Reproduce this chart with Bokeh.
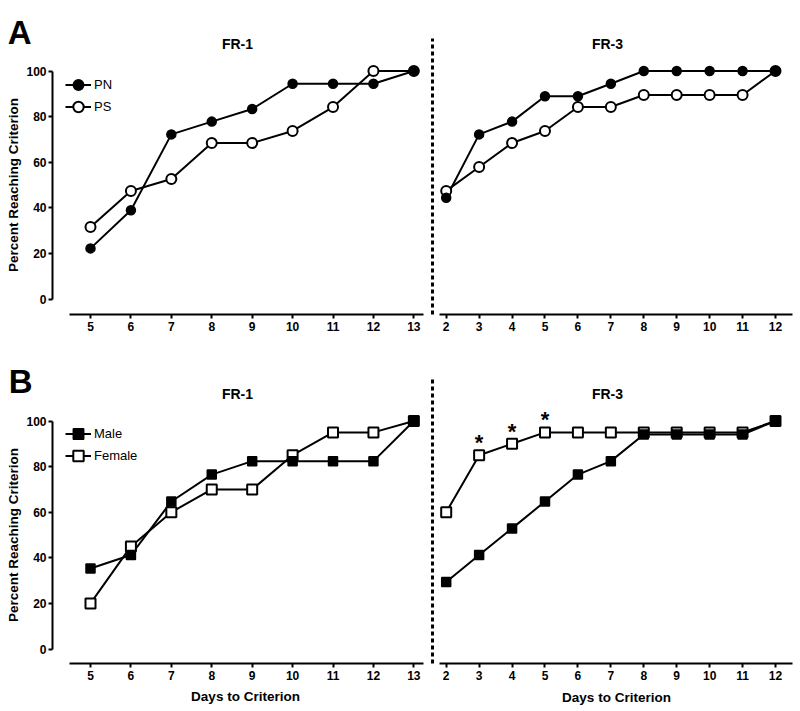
import math
from bokeh.plotting import figure
from bokeh.layouts import column, row
from bokeh.models import Label, Legend, LegendItem, FixedTicker, Range1d
from bokeh.embed import file_html
from bokeh.resources import INLINE

# ---------------- data ----------------
DAYS_FR1 = [5, 6, 7, 8, 9, 10, 11, 12, 13]
DAYS_FR3 = [2, 3, 4, 5, 6, 7, 8, 9, 10, 11, 12]

PN_FR1 = [22.2, 38.9, 72.2, 77.8, 83.3, 94.4, 94.4, 94.4, 100]
PS_FR1 = [31.6, 47.4, 52.6, 68.4, 68.4, 73.7, 84.2, 100, 100]
PN_FR3 = [44.4, 72.2, 77.8, 88.9, 88.9, 94.4, 100, 100, 100, 100, 100]
PS_FR3 = [47.4, 57.9, 68.4, 73.7, 84.2, 84.2, 89.5, 89.5, 89.5, 89.5, 100]

MALE_FR1 = [35.3, 41.2, 64.7, 76.5, 82.4, 82.4, 82.4, 82.4, 100]
FEMALE_FR1 = [20, 45, 60, 70, 70, 85, 95, 95, 100]
MALE_FR3 = [29.4, 41.2, 52.9, 64.7, 76.5, 82.4, 94.1, 94.1, 94.1, 94.1, 100]
FEMALE_FR3 = [60, 85, 90, 95, 95, 95, 95, 95, 95, 95, 100]

SIG_DAYS_FR3 = [3, 4, 5]
Y_TICKS = [0, 20, 40, 60, 80, 100]

FONT = "Liberation Sans"

# ---------------- layout helpers (pixel geometry of the page) ----------------
PX_PER_PCT = 2.28
def top_v(py):
    return (298.5 - py) / PX_PER_PCT
def bot_v(py):
    return (648.5 - py) / PX_PER_PCT
def fr1_day(px):
    return 5 + (px - 90.0) / 40.42
def fr3_day(px):
    return 2 + (px - 445.7) / 32.93


def style_axis(ax):
    ax.axis_line_width = 2
    ax.axis_line_color = "black"
    ax.major_tick_line_width = 2
    ax.major_tick_line_color = "black"
    ax.major_tick_in = 0
    ax.major_tick_out = 4
    ax.minor_tick_line_color = None
    ax.major_label_text_font = FONT
    ax.major_label_text_font_style = "bold"
    ax.major_label_text_font_size = "12px"
    ax.major_label_text_color = "black"
    ax.major_label_standoff = 3


def make_fig(width, height, xr, yr, mbl, mbt, mbb):
    p = figure(width=width, height=height, x_range=Range1d(*xr), y_range=Range1d(*yr),
               min_border_left=mbl, min_border_right=0, min_border_top=mbt,
               min_border_bottom=mbb, toolbar_location=None, output_backend="svg",
               title=None)
    p.frame_align = False
    p.grid.visible = False
    p.outline_line_color = None
    p.background_fill_color = "white"
    p.border_fill_color = "white"
    return p


def screen_label(p, fl, fb, px, py, text, size, style="bold", **kw):
    # position given in page pixels, converted to screen units relative to the frame
    p.add_layout(Label(x=px - fl, y=fb - py, x_units="screen", y_units="screen",
                       text=text, text_font=FONT, text_font_style=style,
                       text_font_size=size, text_color="black", **kw))


def left_panel(row_top, row_h, frame_top, vfun, axis_py, mid_py, title_py):
    # frame covers the whole figure (below frame_top); axes are placed at fixed locations
    p = make_fig(430, row_h, (fr1_day(0), fr1_day(430)),
                 (vfun(row_top + row_h), vfun(frame_top)), 0, frame_top - row_top, 0)
    fb = row_top + row_h
    xa = p.xaxis[0]
    style_axis(xa)
    xa.ticker = FixedTicker(ticks=DAYS_FR1)
    xa.bounds = (fr1_day(69), fr1_day(423))
    xa.fixed_location = vfun(axis_py)
    ya = p.yaxis[0]
    style_axis(ya)
    ya.major_label_standoff = 2
    ya.ticker = FixedTicker(ticks=Y_TICKS)
    ya.bounds = (0, 100)
    ya.fixed_location = fr1_day(52)
    screen_label(p, 0, fb, 13, mid_py, "Percent Reaching Criterion", "13.5px",
                 angle=math.pi / 2, text_align="center", text_baseline="middle")
    screen_label(p, 0, fb, 237, title_py, "FR-1", "14px",
                 text_align="center", text_baseline="middle")
    return p


def right_panel(row_top, row_h, frame_top, bottom_px, dash_top_px, vfun, title_py):
    yr = (vfun(bottom_px), vfun(frame_top))
    p = make_fig(370, row_h, (fr3_day(432), fr3_day(800)), yr, 2, frame_top - row_top,
                 row_top + row_h - bottom_px)
    xa = p.xaxis[0]
    style_axis(xa)
    xa.ticker = FixedTicker(ticks=DAYS_FR3)
    xa.bounds = (fr3_day(439), fr3_day(792))
    ya = p.yaxis[0]
    ya.ticker = FixedTicker(ticks=[])
    ya.major_label_text_font_size = "0px"
    ya.major_tick_out = 0
    ya.major_tick_in = 0
    ya.minor_tick_line_color = None
    ya.major_label_standoff = 0
    ya.axis_line_width = 3
    ya.axis_line_color = "black"
    ya.axis_line_dash = "4 3"
    ya.bounds = (yr[0], vfun(dash_top_px))
    screen_label(p, 432, bottom_px, 607, title_py, "FR-3", "14px",
                 text_align="center", text_baseline="middle")
    return p


def add_series(p, days, filled_vals, open_vals, marker):
    lo = p.line(days, open_vals, line_color="black", line_width=2)
    lf = p.line(days, filled_vals, line_color="black", line_width=2)
    so = p.scatter(days, open_vals, marker=marker, size=10, fill_color="white",
                   line_color="black", line_width=2)
    sf = p.scatter(days, filled_vals, marker=marker, size=9, fill_color="black",
                   line_color="black", line_width=1.5)
    return (lf, sf), (lo, so)


def add_legend(p, label_f, rf, label_o, ro):
    # one legend box per entry: the box margin sets the left offset, the item
    # height places each entry's centre at the wanted distance below the frame top
    for label, rends, h in ((label_f, rf, 39), (label_o, ro, 83)):
        leg = Legend(items=[LegendItem(label=label, renderers=list(rends))],
                     location="top_left", margin=65, padding=0, spacing=0,
                     glyph_width=26, glyph_height=h, label_height=h, label_standoff=3,
                     label_text_font=FONT, label_text_font_size="13px",
                     label_text_color="black", border_line_color=None,
                     background_fill_alpha=0)
        p.add_layout(leg)


# ---------------- panel A ----------------
a1 = left_panel(0, 340, 0, top_v, 314, 184.5, 43)
rf, ro = add_series(a1, DAYS_FR1, PN_FR1, PS_FR1, "circle")
add_legend(a1, "PN", rf, "PS", ro)
screen_label(a1, 0, 340, 7.3, 32.3, "A", "33px", text_align="left",
             text_baseline="alphabetic")

a2 = right_panel(0, 340, 30, 314, 38, top_v, 43)
add_series(a2, DAYS_FR3, PN_FR3, PS_FR3, "circle")

# ---------------- panel B ----------------
b1 = left_panel(340, 371, 349, bot_v, 663, 534.5, 393)
rf, ro = add_series(b1, DAYS_FR1, MALE_FR1, FEMALE_FR1, "square")
add_legend(b1, "Male", rf, "Female", ro)
screen_label(b1, 0, 711, 8.3, 380.7, "B", "33px", text_align="left",
             text_baseline="alphabetic")
screen_label(b1, 0, 711, 245, 696, "Days to Criterion", "13.5px",
             text_align="center", text_baseline="middle")

b2 = right_panel(340, 371, 370, 663, 378, bot_v, 393)
add_series(b2, DAYS_FR3, MALE_FR3, FEMALE_FR3, "square")
sig_y = [FEMALE_FR3[DAYS_FR3.index(d)] for d in SIG_DAYS_FR3]
b2.text(x=SIG_DAYS_FR3, y=sig_y, text=["*"] * len(SIG_DAYS_FR3), text_align="center",
        text_baseline="bottom", text_font_size="22px", text_font_style="bold",
        text_color="black")

xa = b2.xaxis[0]
xa.axis_label = "Days to Criterion"
xa.axis_label_text_font = FONT
xa.axis_label_text_font_style = "bold"
xa.axis_label_text_font_size = "13.5px"
xa.axis_label_text_color = "black"
xa.axis_label_standoff = 7

layout = column(row(a1, a2), row(b1, b2))
open("out.html", "w").write(file_html(layout, INLINE))
